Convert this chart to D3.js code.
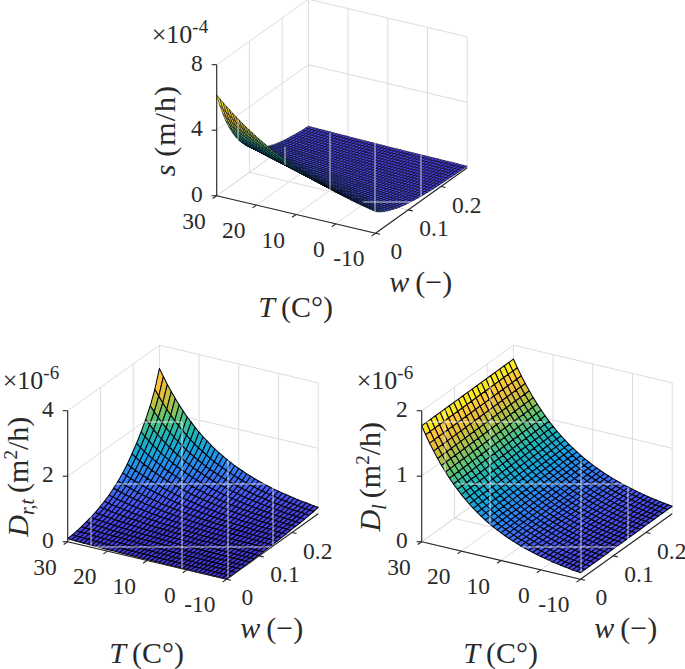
<!DOCTYPE html>
<html>
<head>
<meta charset="utf-8">
<script src="https://cdn.jsdelivr.net/npm/d3@7"></script>
<style>
  body { margin: 0; background: #fff; }
  text { font-family: "Liberation Serif", serif; fill: #2a2a2a; }
</style>
</head>
<body>
<div id="chart"></div>
<script>
// axis ticks
const tickT = [30, 20, 10, 0, -10];
const tickW = [0, 0.1, 0.2];
const tickS = [0, 4, 8];
const tickDrt = [0, 2, 4];
const tickDl = [0, 1, 2];

// mesh positions
const meshT41 = [30,29,28,27,26,25,24,23,22,21,20,19,18,17,16,15,14,13,12,11,10,9,8,7,6,5,4,3,2,1,0,-1,-2,-3,-4,-5,-6,-7,-8,-9,-10];
const meshW21 = [0,.014,.028,.042,.056,.07,.084,.098,.112,.126,.14,.154,.168,.182,.196,.21,.224,.238,.252,.266,.28];
const meshT51 = [30,29.2,28.4,27.6,26.8,26,25.2,24.4,23.6,22.8,22,21.2,20.4,19.6,18.8,18,17.2,16.4,15.6,14.8,14,13.2,12.4,11.6,10.8,10,9.2,8.4,7.6,6.8,6,5.2,4.4,3.6,2.8,2,1.2,.4,-.4,-1.2,-2,-2.8,-3.6,-4.4,-5.2,-6,-6.8,-7.6,-8.4,-9.2,-10];
const meshW31 = [0,.0093,.0187,.028,.0373,.0467,.056,.0653,.0747,.084,.0933,.1027,.112,.1213,.1307,.14,.1493,.1587,.168,.1773,.1867,.196,.2053,.2147,.224,.2333,.2427,.252,.2613,.2707,.28];

// s in 1e-6 m/h, one row per T of meshT51, one column per w of meshW31
const sRows = [
[615,540,474,416,366,322,283,250,220,194,172,152,135,120,106,94,84,76,68,61,55,50,45,41,38,35,32,29,27,26,24],
[596,523,460,404,355,312,275,242,214,188,167,148,131,116,103,92,82,74,66,59,53,49,44,40,37,34,31,29,27,25,23],
[578,507,446,392,345,303,267,235,208,183,162,144,127,113,100,89,80,72,64,58,52,48,43,39,36,33,30,28,26,24,23],
[561,492,433,381,335,294,259,229,202,178,158,140,124,110,98,87,78,70,63,56,51,46,42,38,35,32,30,28,26,24,22],
[544,478,420,370,325,286,252,222,196,173,153,136,121,107,95,85,76,68,61,55,50,45,41,37,34,31,29,27,25,24,22],
[527,463,407,358,315,277,244,216,191,168,149,132,117,104,93,83,74,67,60,54,49,44,40,37,34,31,28,26,25,23,22],
[511,449,395,348,306,269,237,209,185,163,145,129,114,102,90,81,72,65,58,52,48,43,39,36,33,30,28,26,24,23,21],
[496,436,383,338,297,262,230,203,180,159,141,125,111,99,88,79,70,63,57,51,47,42,38,35,32,30,27,25,24,22,21],
[481,423,372,328,288,254,224,198,175,154,137,122,108,96,86,77,69,62,55,50,46,41,38,34,32,29,27,25,23,22,20],
[466,410,361,318,280,246,217,192,170,150,133,118,105,94,83,75,67,60,54,49,45,40,37,34,31,28,26,24,23,21,20],
[452,398,350,308,271,239,211,186,165,146,129,115,102,91,81,73,65,59,53,47,43,39,36,33,30,28,26,24,22,21,20],
[438,386,339,299,263,232,205,181,160,142,126,112,100,89,79,71,63,57,51,46,42,38,35,32,30,27,25,23,22,21,19],
[425,374,329,290,255,225,199,176,155,138,122,109,97,86,77,69,62,56,50,45,41,37,34,31,29,27,25,23,21,20,19],
[412,363,319,281,248,219,193,171,151,134,119,106,94,84,75,67,60,54,49,44,40,37,33,31,28,26,24,22,21,20,18],
[400,352,310,273,241,212,187,166,147,130,115,103,92,82,73,65,58,53,48,43,39,36,33,30,28,26,24,22,20,19,18],
[388,342,301,265,234,206,182,161,143,126,112,100,89,80,71,64,57,51,46,42,38,35,32,29,27,25,23,21,20,19,18],
[376,331,292,257,227,200,177,156,139,123,109,97,87,78,69,62,56,50,45,41,37,34,31,29,26,24,23,21,20,18,17],
[365,322,283,250,220,194,172,152,135,120,106,95,85,76,67,60,54,49,44,40,36,33,30,28,26,24,22,21,19,18,17],
[354,312,275,242,214,189,167,148,131,116,103,92,82,74,66,59,53,48,43,39,36,33,30,27,25,23,22,20,19,18,17],
[343,302,266,235,207,183,162,143,127,113,100,90,80,72,64,57,52,47,42,38,35,32,29,27,25,23,21,20,19,17,16],
[333,294,259,228,202,178,158,139,124,110,98,87,78,70,62,56,50,45,41,37,34,31,28,26,24,22,21,19,18,17,16],
[323,285,251,222,196,173,153,136,120,107,95,85,76,68,61,54,49,44,40,36,33,30,28,26,24,22,20,19,18,17,16],
[313,276,243,215,190,168,149,132,117,104,92,82,74,66,59,53,48,43,39,35,32,30,27,25,23,21,20,19,17,16,15],
[303,268,236,208,184,163,144,128,113,101,90,80,72,64,57,52,46,42,38,35,32,29,27,24,23,21,20,18,17,16,15],
[294,260,229,202,179,158,140,124,110,98,87,78,70,62,56,50,45,41,37,34,31,28,26,24,22,21,19,18,17,16,15],
[285,252,222,196,174,153,136,121,107,95,85,76,68,61,54,49,44,40,36,33,30,28,25,23,22,20,19,17,16,15,14],
[277,245,216,191,169,149,132,117,104,93,83,74,66,59,53,48,43,39,35,32,30,27,25,23,21,20,18,17,16,15,14],
[268,237,209,185,164,145,128,114,101,90,80,72,64,57,52,46,42,38,34,31,29,27,24,22,21,19,18,17,16,15,14],
[260,230,203,179,159,141,125,111,99,88,78,70,62,56,50,45,41,37,34,31,28,26,24,22,20,19,18,17,15,15,14],
[252,223,197,174,154,137,121,108,96,85,76,68,61,54,49,44,40,36,33,30,28,25,23,22,20,19,17,16,15,14,14],
[245,217,191,169,150,133,118,105,93,83,74,66,59,53,48,43,39,35,32,29,27,25,23,21,20,18,17,16,15,14,13],
[237,210,186,164,146,129,115,102,91,81,72,64,58,52,46,42,38,34,31,29,27,24,22,21,19,18,17,16,15,14,13],
[230,204,180,160,142,126,112,99,88,79,70,63,56,50,45,41,37,34,31,28,26,24,22,20,19,18,17,15,15,14,13],
[223,198,175,155,137,122,108,97,86,77,68,61,55,49,44,40,36,33,30,27,25,23,22,20,19,17,16,15,14,14,13],
[216,192,170,150,133,119,105,94,84,75,67,60,53,48,43,39,35,32,29,27,25,23,21,20,18,17,16,15,14,13,13],
[210,186,165,146,130,116,103,92,82,73,65,58,52,47,42,38,35,32,29,26,24,22,21,19,18,17,16,15,14,13,12],
[204,181,160,142,126,112,100,89,80,71,63,57,51,46,41,37,34,31,28,26,24,22,20,19,18,17,15,15,14,13,12],
[197,175,155,138,122,109,97,87,77,69,62,55,50,45,40,36,33,30,27,25,23,22,20,19,17,16,15,14,14,13,12],
[191,170,151,134,119,106,95,84,75,67,60,54,48,44,39,36,32,29,27,25,23,21,20,18,17,16,15,14,13,13,12],
[186,165,147,130,116,103,92,82,73,66,59,53,47,43,38,35,32,29,26,24,22,21,19,18,17,16,15,14,13,13,12],
[180,160,142,126,112,100,90,80,71,64,57,51,46,42,38,34,31,28,26,24,22,20,19,18,17,16,15,14,13,12,12],
[175,156,138,123,109,98,87,78,70,62,56,50,45,41,37,33,30,28,25,23,22,20,19,17,16,15,14,14,13,12,12],
[169,150,134,119,106,95,85,76,68,60,54,49,44,40,36,33,30,27,25,23,21,20,18,17,16,15,14,13,13,12,11],
[164,146,130,116,103,92,82,74,66,59,53,47,43,39,35,32,29,27,24,23,21,19,18,17,16,15,14,13,12,12,11],
[159,142,126,112,100,90,80,72,64,57,51,46,42,38,34,31,28,26,24,22,20,19,18,16,15,15,14,13,12,12,11],
[154,137,122,109,97,87,78,70,62,56,50,45,41,37,33,30,28,25,23,22,20,19,17,16,15,14,13,13,12,11,11],
[150,134,119,106,95,85,76,68,61,54,49,44,40,36,33,30,27,25,23,21,20,18,17,16,15,14,13,13,12,11,11],
[145,129,115,103,92,82,74,66,59,53,47,43,39,35,32,29,26,24,22,21,19,18,17,16,15,14,13,12,12,11,11],
[141,126,112,100,90,80,72,64,57,52,46,42,38,34,31,28,26,24,22,20,19,18,16,15,14,14,13,12,12,11,10],
[137,122,109,97,87,78,70,62,56,50,45,41,37,33,30,28,25,23,21,20,18,17,16,15,14,13,13,12,11,11,10],
[132,118,105,94,84,76,68,60,54,49,44,40,36,33,30,27,25,23,21,19,18,17,16,15,14,13,12,12,11,11,10]
];

// D_rt in 1e-8 m2/h, one list per w of meshW21, one value per T of meshT41
const drtByW = [
[9,9,8,8,7,7,6,6,6,5,5,5,5,4,4,4,4,4,3,3,3,3,3,3,2,2,2,2,2,2,2,2,1,1,1,1,1,1,1,1,1],
[11,10,10,9,9,8,8,8,7,7,6,6,6,5,5,5,5,4,4,4,4,3,3,3,3,3,3,2,2,2,2,2,2,2,2,2,1,1,1,1,1],
[13,12,12,11,10,10,9,9,8,8,8,7,7,6,6,6,5,5,5,5,4,4,4,4,3,3,3,3,3,3,2,2,2,2,2,2,2,2,2,2,1],
[16,15,14,14,13,12,11,11,10,10,9,9,8,8,7,7,6,6,6,5,5,5,5,4,4,4,4,3,3,3,3,3,3,2,2,2,2,2,2,2,2],
[20,19,18,17,16,15,14,13,12,12,11,10,10,9,9,8,8,7,7,7,6,6,5,5,5,5,4,4,4,4,3,3,3,3,3,3,2,2,2,2,2],
[24,23,21,20,19,18,17,16,15,14,13,12,12,11,10,10,9,9,8,8,7,7,6,6,6,5,5,5,5,4,4,4,4,3,3,3,3,3,3,2,2],
[29,27,26,24,23,21,20,19,18,17,16,15,14,13,12,12,11,10,10,9,9,8,8,7,7,6,6,6,5,5,5,4,4,4,4,4,3,3,3,3,3],
[36,34,32,30,28,27,25,23,22,21,20,18,17,16,15,14,14,13,12,11,11,10,10,9,8,8,7,7,7,6,6,5,5,5,5,4,4,4,4,3,3],
[43,40,38,36,34,32,30,28,26,25,23,22,21,20,18,17,16,15,14,14,13,12,11,11,10,9,9,8,8,7,7,7,6,6,6,5,5,5,4,4,4],
[52,49,46,43,41,38,36,34,32,30,28,26,25,23,22,21,19,18,17,16,15,14,13,13,12,11,10,10,9,9,8,8,7,7,6,6,6,5,5,5,5],
[63,59,56,52,49,46,43,41,38,36,34,32,30,28,26,25,23,22,21,19,18,17,16,15,14,13,13,12,11,10,10,9,9,8,8,7,7,6,6,6,5],
[75,70,66,62,58,55,51,48,45,43,40,37,35,33,31,29,27,26,24,23,21,20,19,18,17,16,15,14,13,12,11,11,10,9,9,8,8,7,7,6,6],
[90,84,79,74,70,65,61,58,54,51,48,45,42,39,37,35,32,30,29,27,25,24,22,21,20,18,17,16,15,14,13,13,12,11,10,10,9,8,8,7,7],
[107,100,94,88,83,78,73,68,64,60,56,53,49,46,43,41,38,36,33,31,29,28,26,24,23,21,20,19,18,16,15,15,14,13,12,11,11,10,9,9,8],
[128,120,112,105,99,92,87,81,76,71,67,62,59,55,51,48,45,42,40,37,35,33,31,29,27,25,24,22,21,20,18,17,16,15,14,13,12,12,11,10,10],
[150,140,131,123,115,108,101,94,88,83,77,72,68,63,59,55,52,49,45,43,40,37,35,33,31,29,27,25,24,22,21,20,18,17,16,15,14,13,12,12,11],
[175,164,153,143,134,125,117,110,102,96,90,84,78,73,69,64,60,56,52,49,46,43,40,38,35,33,31,29,27,25,24,22,21,19,18,17,16,15,14,13,12],
[203,190,177,166,155,145,135,127,118,111,103,97,90,84,79,74,69,64,60,56,53,49,46,43,40,37,35,33,31,29,27,25,23,22,20,19,18,17,16,15,13],
[235,219,205,191,179,167,156,146,136,127,119,111,104,97,90,84,79,74,69,64,60,56,52,49,46,43,40,37,35,33,30,28,27,25,23,22,20,19,18,17,15],
[275,257,239,223,208,194,181,169,158,147,137,128,120,112,104,97,91,85,79,74,69,64,60,56,52,49,45,42,40,37,35,32,30,28,26,25,23,21,20,19,17],
[329,307,286,267,249,232,216,201,188,175,163,152,142,132,123,115,107,100,93,87,81,76,70,66,61,57,53,50,46,43,40,37,35,33,30,28,26,25,23,21,20]
];

// D_l in 1e-9 m2/h, one row per T of meshT41, one column per w of meshW21
const dlRows = [
[1770,1771,1772,1773,1774,1775,1775,1776,1777,1778,1779,1780,1781,1782,1783,1784,1784,1785,1786,1787,1788],
[1647,1648,1649,1650,1652,1653,1654,1655,1656,1657,1659,1660,1661,1662,1663,1664,1665,1667,1668,1669,1670],
[1533,1534,1536,1537,1538,1540,1541,1542,1544,1545,1547,1548,1549,1551,1552,1553,1555,1556,1557,1559,1560],
[1427,1429,1430,1432,1433,1435,1436,1438,1439,1441,1443,1444,1446,1447,1449,1450,1452,1453,1455,1456,1458],
[1328,1330,1331,1333,1335,1336,1338,1340,1341,1343,1345,1346,1348,1349,1351,1353,1354,1356,1358,1359,1361],
[1236,1238,1240,1241,1243,1245,1247,1248,1250,1252,1254,1255,1257,1259,1261,1262,1264,1266,1268,1269,1271],
[1150,1152,1154,1156,1157,1159,1161,1163,1165,1167,1169,1170,1172,1174,1176,1178,1180,1181,1183,1185,1187],
[1071,1073,1075,1077,1079,1081,1083,1085,1087,1089,1091,1092,1094,1096,1098,1100,1102,1104,1106,1108,1110],
[996,998,1000,1002,1004,1006,1008,1010,1012,1014,1016,1018,1020,1022,1024,1026,1028,1030,1032,1034,1036],
[927,929,931,933,935,937,939,941,943,945,947,949,951,953,955,957,959,961,963,965,967],
[863,865,867,869,871,873,875,877,879,881,884,886,888,890,892,894,896,898,900,902,904],
[803,805,807,809,811,813,815,817,819,821,824,826,828,830,832,834,836,838,840,842,844],
[748,750,752,754,756,758,760,762,764,766,769,771,773,775,777,779,781,783,785,787,789],
[696,698,700,702,704,706,708,710,712,714,717,719,721,723,725,727,729,731,733,735,737],
[648,650,652,654,656,658,660,662,664,666,668,670,672,674,676,678,680,682,684,686,688],
[603,605,607,609,611,613,615,617,619,621,623,625,627,629,631,633,635,637,639,641,643],
[561,563,565,567,569,571,573,575,577,579,581,582,584,586,588,590,592,594,596,598,600],
[522,524,526,528,530,532,534,536,538,540,542,543,545,547,549,551,553,555,557,559,561],
[486,488,490,492,494,496,497,499,501,503,505,507,509,511,513,515,516,518,520,522,524],
[452,454,456,458,459,461,463,465,467,469,471,472,474,476,478,480,482,483,485,487,489],
[421,423,425,426,428,430,432,433,435,437,439,440,442,444,446,447,449,451,453,454,456],
[392,394,396,397,399,401,403,404,406,408,410,411,413,415,417,418,420,422,424,425,427],
[365,367,368,370,372,374,375,377,379,380,382,384,385,387,389,391,392,394,396,397,399],
[339,341,342,344,346,347,349,351,352,354,356,357,359,361,362,364,365,367,369,370,372],
[316,318,319,321,322,324,326,327,329,330,332,334,335,337,338,340,342,343,345,346,348],
[294,296,297,299,300,302,303,305,306,308,310,311,313,314,316,317,319,320,322,323,325],
[274,276,277,279,280,282,283,285,286,288,289,291,292,294,295,297,298,300,301,303,304],
[255,256,258,259,261,262,264,265,267,268,270,271,272,274,275,277,278,280,281,283,284],
[237,238,240,241,242,244,245,246,248,249,250,252,253,254,256,257,259,260,261,263,264],
[221,222,224,225,226,228,229,230,231,233,234,235,237,238,239,241,242,243,244,246,247],
[205,206,208,209,210,211,213,214,215,216,218,219,220,221,223,224,225,226,228,229,230],
[191,192,193,195,196,197,198,199,201,202,203,204,205,207,208,209,210,211,213,214,215],
[178,179,180,181,183,184,185,186,187,188,190,191,192,193,194,195,196,198,199,200,201],
[165,166,167,168,169,171,172,173,174,175,176,177,178,179,180,182,183,184,185,186,187],
[154,155,156,157,158,159,160,161,162,163,165,166,167,168,169,170,171,172,173,174,175],
[143,144,145,146,147,148,149,150,151,152,153,154,155,156,157,158,159,160,161,162,163],
[133,134,135,136,137,138,139,140,141,142,143,143,144,145,146,147,148,149,150,151,152],
[124,125,126,127,128,129,129,130,131,132,133,134,135,136,137,138,138,139,140,141,142],
[115,116,117,118,119,120,120,121,122,123,124,125,126,127,128,129,129,130,131,132,133],
[107,108,109,110,110,111,112,113,114,115,116,116,117,118,119,120,121,121,122,123,124],
[100,101,102,102,103,104,105,106,106,107,108,109,110,110,111,112,113,114,114,115,116]
];

// colormap stops
const parulaStops = ["#4636d8","#4a58f5","#2f7ff5","#16a3e0","#1fb8b0","#62c672","#c2bf3a","#fdbd3c","#f9fb15"];

const width = 685, height = 669;
const tVec = [158.8, 37.6], wVec = [91.7, -65.5], zSpan = 131;

const svg = d3.select("#chart").append("svg")
  .attr("width", width).attr("height", height)
  .style("display", "block");

function drawPanel(p) {
  const tS = d3.scaleLinear().domain([30, -10]).range([0, 1]);
  const wS = d3.scaleLinear().domain([0, 0.28]).range([0, 1]);
  const zS = d3.scaleLinear().domain([0, p.zTop]).range([0, zSpan]);
  const cS = d3.scaleLinear()
    .domain(parulaStops.map((c, i) => i / (parulaStops.length - 1) * p.cTop))
    .range(parulaStops).clamp(true);

  const project = (T, w, z) => [
    p.x + tS(T) * tVec[0] + wS(w) * wVec[0],
    p.y + tS(T) * tVec[1] + wS(w) * wVec[1] - zS(z)
  ];
  const line = d3.line();
  const g = svg.append("g");

  // walls and floor
  const gridSegs = [];
  const zTicks = p.zTicks.map(v => v * p.zUnit);
  tickT.forEach(T => {
    gridSegs.push([project(T, 0, 0), project(T, 0.28, 0)]);
    gridSegs.push([project(T, 0.28, 0), project(T, 0.28, p.zTop)]);
  });
  tickW.forEach(w => {
    gridSegs.push([project(30, w, 0), project(-10, w, 0)]);
    gridSegs.push([project(30, w, 0), project(30, w, p.zTop)]);
  });
  zTicks.forEach(z => {
    gridSegs.push([project(30, 0, z), project(30, 0.28, z)]);
    gridSegs.push([project(30, 0.28, z), project(-10, 0.28, z)]);
  });
  g.append("g").selectAll("path").data(gridSegs).join("path")
    .attr("d", line).attr("fill", "none")
    .attr("stroke", "#dcdcdc").attr("stroke-width", 1);

  // faces, far corner first
  const faces = [];
  const nCols = d3.min(p.rows, r => r.length);
  for (let i = 0; i < p.rows.length - 1; i++) {
    for (let j = nCols - 2; j >= 0; j--) {
      const c = [[i, j], [i + 1, j], [i + 1, j + 1], [i, j + 1]];
      faces.push({
        pts: c.map(([a, b]) => project(p.meshT[a], p.meshW[b], p.rows[a][b])),
        val: d3.mean(c, ([a, b]) => p.rows[a][b])
      });
    }
  }
  g.append("g").selectAll("path").data(faces).join("path")
    .attr("d", d => line(d.pts) + "Z")
    .attr("fill", d => cS(d.val))
    .attr("stroke", "#050510")
    .attr("stroke-width", p.edge)
    .attr("stroke-linejoin", "round");

  // pale seams across the surface
  g.append("g").selectAll("path").data(p.seams).join("path")
    .attr("d", d => line([[d[0], d[1]], [d[2], d[3]]]))
    .attr("stroke", "#fff").attr("stroke-opacity", 0.75).attr("stroke-width", 1);

  // axes
  const axisSegs = [
    [project(30, 0, 0), project(30, 0, p.zTop)],
    [project(30, 0, 0), project(-10, 0, 0)],
    [project(-10, 0, 0), project(-10, 0.28, 0)]
  ];
  zTicks.forEach(z => {
    const a = project(30, 0, z);
    axisSegs.push([a, [a[0] - 5, a[1]]]);
  });
  tickT.forEach(T => {
    const a = project(T, 0, 0);
    axisSegs.push([a, [a[0] - 4, a[1] + 2.8]]);
  });
  tickW.forEach(w => {
    const a = project(-10, w, 0);
    axisSegs.push([a, [a[0] + 4.5, a[1] + 1]]);
  });
  g.append("g").selectAll("path").data(axisSegs).join("path")
    .attr("d", line).attr("fill", "none")
    .attr("stroke", "#262626").attr("stroke-width", 1.1);

  // tick labels
  g.append("g").selectAll("text").data(p.zTicks).join("text")
    .attr("x", v => project(30, 0, v * p.zUnit)[0] - 14)
    .attr("y", v => project(30, 0, v * p.zUnit)[1] + 6)
    .attr("text-anchor", "end").attr("font-size", 23.5)
    .text(d => d);
  g.append("g").selectAll("text").data(tickT).join("text")
    .attr("x", T => project(T, 0, 0)[0] - 11)
    .attr("y", T => project(T, 0, 0)[1] + 33)
    .attr("text-anchor", "end").attr("font-size", 23.5)
    .text(d => d);
  g.append("g").selectAll("text").data(tickW).join("text")
    .attr("x", w => project(-10, w, 0)[0] + (w === 0 ? 15 : 11))
    .attr("y", w => project(-10, w, 0)[1] + 26)
    .attr("font-size", 23.5)
    .text(d => d);

  // multiplier
  const mult = g.append("text").attr("x", p.x - 65).attr("y", p.y - 153).attr("font-size", 26);
  mult.append("tspan").text("\u00d710");
  mult.append("tspan").attr("dy", -10).attr("font-size", 19).text(p.exponent);

  // axis labels
  addLabel(g, p.x + 79, p.y + 121, 0, 0, 30, [
    { t: "T", i: true }, { t: "\u2009(C\u00b0)" }
  ]);
  addLabel(g, p.x + 204, p.y + 96, 0, 0, 30, [
    { t: "w", i: true }, { t: "\u2009(\u2212)" }
  ]);
  addLabel(g, p.x - p.zOffset, p.y - 65, -90, p.zSpacing, 30, p.zLabel);
}

function addLabel(g, x, y, rot, spacing, size, parts) {
  const t = g.append("text")
    .attr("transform", "translate(" + x + "," + y + ") rotate(" + rot + ")")
    .attr("text-anchor", "middle")
    .attr("letter-spacing", spacing)
    .attr("font-size", size);
  parts.forEach(s => {
    const sp = t.append("tspan").text(s.t);
    if (s.i) sp.attr("font-style", "italic");
    if (s.dy) sp.attr("dy", s.dy);
    if (s.size) sp.attr("font-size", s.size);
  });
}

drawPanel({
  x: 216.7, y: 195.7, zTop: 800, zUnit: 100, cTop: 570, edge: 0.6,
  rows: sRows, meshT: meshT51, meshW: meshW31,
  zTicks: tickS, exponent: "-4", zSpacing: 1, zOffset: 42,
  zLabel: [{ t: "s", i: true }, { t: "\u2009(m/h)" }],
  seams: [[238,120,238,140],[285,147,285,165],[330,133,330,192],[375,143,375,213],[421,155,421,198],[363,202,421,202]]
});

drawPanel({
  x: 67.7, y: 541.7, zTop: 400, zUnit: 100, cTop: 330, edge: 1.05,
  rows: d3.transpose(drtByW), meshT: meshT41, meshW: meshW21,
  zTicks: tickDrt, exponent: "-6", zSpacing: 0, zOffset: 40,
  zLabel: [{ t: "D", i: true }, { t: "r,t", i: true, size: 20, dy: 6 }, { t: "\u2009(m", dy: -6 }, { t: "2", size: 19, dy: -11 }, { t: "/h)", dy: 11 }],
  seams: [[91,515,91,547],[182,422,182,570],[228,460,228,578],[273,488,273,547],[143,422,182,422],[115,484,273,484],[91,547,273,547]]
});

drawPanel({
  x: 421.7, y: 541.7, zTop: 2000, zUnit: 1000, cTop: 1790, edge: 1.05,
  rows: dlRows, meshT: meshT41, meshW: meshW21,
  zTicks: tickDl, exponent: "-6", zSpacing: 0, zOffset: 42,
  zLabel: [{ t: "D", i: true }, { t: "l", i: true, size: 20, dy: 6 }, { t: "\u2009(m", dy: -6 }, { t: "2", size: 19, dy: -11 }, { t: "/h)", dy: 11 }],
  seams: [[445,410,445,475],[490,378,490,525],[581,460,581,572],[628,487,628,540],[422,422,545,422],[457,484,625,484],[522,547,628,547]]
});
</script>
</body>
</html>
